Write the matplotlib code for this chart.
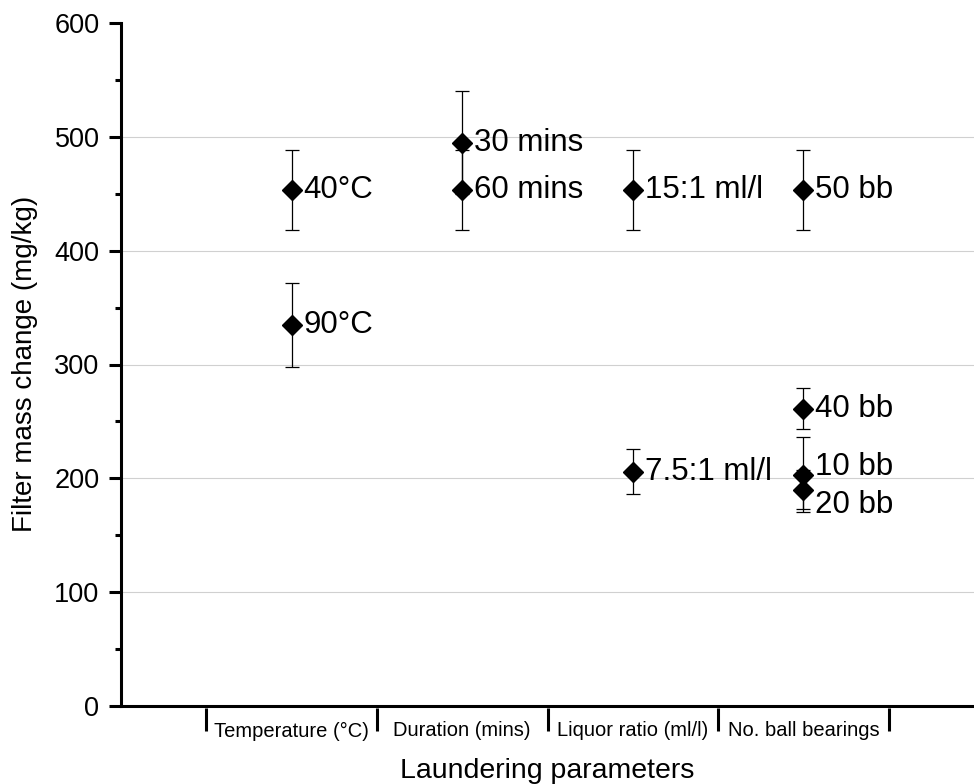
import matplotlib
matplotlib.use("Agg")
import matplotlib.pyplot as plt
from matplotlib.ticker import MultipleLocator

plt.rcParams['font.family'] = ['Liberation Sans', 'DejaVu Sans']

# ---- data ----
categories = ["Temperature (°C)", "Duration (mins)", "Liquor ratio (ml/l)", "No. ball bearings"]
point_labels = ["40°C", "90°C", "30 mins", "60 mins", "15:1 ml/l", "7.5:1 ml/l",
                "50 bb", "40 bb", "10 bb", "20 bb"]
point_category = [1, 1, 2, 2, 3, 3, 4, 4, 4, 4]
point_values = [453, 335, 495, 453, 453, 206, 453, 261, 203, 190]
point_errors = [35, 37, 45, 35, 35, 20, 35, 18, 33, 17]
label_offsets = [(0, 0), (0, 0), (0, 0), (0, 0), (0, 0), (0, 0), (0, 0), (0, 0), (0, 6), (0, -11)]

W, H = 974, 784
fig = plt.figure(figsize=(W / 100, H / 100), dpi=100)
ax = fig.add_axes([121 / W, (H - 706) / H, (W - 121) / W, (706 - 23) / H])

ax.set_xlim(0, 5)
ax.set_ylim(0, 600)

for g in range(100, 600, 100):
    ax.axhline(g, color='#d0d0d0', lw=0.8, zorder=0)

ax.errorbar(point_category, point_values, yerr=point_errors, fmt='D', color='black',
            markersize=10.5, ecolor='black', elinewidth=0.9, capsize=5, capthick=0.9, zorder=3)

for x, y, lab, off in zip(point_category, point_values, point_labels, label_offsets):
    ax.annotate(lab, (x, y), xytext=(8.5 + off[0], off[1]), textcoords='offset points',
                ha='left', va='center', fontsize=22.5)

for s in ['top', 'right']:
    ax.spines[s].set_visible(False)
for s in ['left', 'bottom']:
    ax.spines[s].set_linewidth(2.2)

ax.yaxis.set_major_locator(MultipleLocator(100))
ax.yaxis.set_minor_locator(MultipleLocator(50))
ax.tick_params(axis='y', which='major', direction='out', length=8.5, width=2.2, labelsize=19.5, pad=7)
ax.tick_params(axis='y', which='minor', direction='out', length=4.5, width=2.2)
ax.set_xticks([])
fig.text(25 / W, 1 - 364 / H, "Filter mass change (mg/kg)", rotation=90,
         ha='center', va='center', fontsize=20)

# category axis offset below the main axis
sec = ax.secondary_xaxis(-0.003)
sec.spines['bottom'].set_visible(False)
bounds = [0.5 + i for i in range(len(categories) + 1)]
sec.set_xticks(bounds)
sec.set_xticklabels([''] * len(bounds))
sec.tick_params(axis='x', direction='out', length=16.5, width=2.2)
for i, c in enumerate(categories):
    ax.text(i + 1, (706 - 731) / 683, c, transform=ax.get_xaxis_transform(),
            ha='center', va='center', fontsize=14.5)
ax.text(2.5, (706 - 778) / 683, "Laundering parameters", transform=ax.get_xaxis_transform(),
        ha='center', va='baseline', fontsize=20.5)

fig.savefig("out.png", dpi=100)
